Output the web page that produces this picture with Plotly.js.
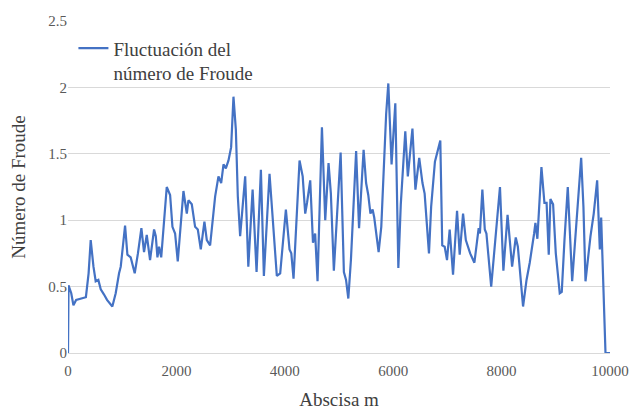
<!DOCTYPE html>
<html>
<head>
<meta charset="utf-8">
<script src="https://cdn.plot.ly/plotly-3.0.1.min.js"></script>
<style>html,body{margin:0;padding:0;background:#fff}#chart{width:630px;height:410px}</style>
</head>
<body>
<div id="chart"></div>
<script>
var abscisa = [0,10,60,100,150,250,330,380,419,470,511,560,604,665,720,818,880,942,973,1053,1096,1157,1200,1231,1290,1354,1403,1453,1514,1588,1620,1650,1680,1720,1822,1884,1927,1976,2025,2130,2192,2222,2284,2345,2395,2450,2517,2561,2622,2715,2776,2826,2869,2912,2961,3010,3053,3097,3133,3176,3269,3327,3406,3479,3559,3614,3718,3853,3915,4020,4087,4120,4161,4272,4330,4377,4410,4469,4520,4560,4604,4685,4746,4807,4850,4905,5030,5090,5130,5172,5220,5316,5370,5454,5500,5540,5580,5620,5650,5731,5780,5870,5910,5935,5970,6039,6095,6140,6223,6270,6355,6410,6480,6540,6580,6660,6700,6770,6840,6869,6905,6950,6993,7042,7104,7178,7227,7289,7340,7375,7420,7498,7577,7600,7645,7690,7720,7808,7890,7970,8033,8110,8194,8261,8300,8396,8460,8519,8600,8624,8660,8735,8790,8830,8870,8901,8950,9000,9073,9110,9160,9221,9302,9380,9468,9510,9548,9640,9700,9763,9800,9812,9837,9860,9917,10000];
var froude = [0,0.51,0.45,0.36,0.40,0.41,0.42,0.60,0.85,0.65,0.54,0.55,0.48,0.44,0.40,0.35,0.45,0.60,0.65,0.96,0.74,0.72,0.65,0.60,0.75,0.94,0.76,0.89,0.70,0.93,0.88,0.72,0.80,0.72,1.25,1.19,0.95,0.90,0.69,1.22,1.05,1.15,1.12,0.95,0.93,0.78,0.99,0.85,0.81,1.18,1.33,1.28,1.42,1.39,1.45,1.55,1.93,1.68,1.18,0.88,1.33,0.65,1.23,0.61,1.38,0.58,1.35,0.58,0.60,1.08,0.78,0.75,0.56,1.45,1.33,1.05,1.13,1.30,0.83,0.90,0.54,1.70,1.00,1.43,1.20,0.62,1.51,0.61,0.55,0.41,0.70,1.52,0.94,1.53,1.28,1.19,1.05,1.08,1.02,0.76,0.95,1.80,2.03,1.70,1.42,1.88,0.64,1.12,1.67,1.33,1.69,1.23,1.47,1.28,1.20,0.75,1.10,1.44,1.55,1.60,0.81,0.80,0.70,0.93,0.59,1.07,0.74,1.05,0.85,0.81,0.75,0.68,0.94,0.90,1.23,0.93,0.90,0.50,0.88,1.25,0.62,1.04,0.65,0.87,0.80,0.35,0.55,0.68,0.90,0.98,0.86,1.40,1.13,1.13,0.74,1.16,1.12,0.75,0.45,0.46,0.85,1.25,0.54,0.95,1.47,1.10,0.54,0.88,1.05,1.30,0.90,0.78,1.02,0.75,0,0];
var xTicks = [0,2000,4000,6000,8000,10000];
var yTicks = [0,0.5,1,1.5,2,2.5];
var yTickLabels = ['0','0.5','1','1.5','2','2.5'];
var seriesName = 'Fluctuación del<br>número de Froude';

var fontFam = 'Liberation Serif, Times New Roman, serif';
Plotly.newPlot('chart', [{
  x: abscisa, y: froude, type: 'scatter', mode: 'lines', name: seriesName,
  line: {color: '#4472C4', width: 2.2}
}], {
  width: 630, height: 410,
  margin: {l: 68, r: 20, t: 21, b: 57},
  paper_bgcolor: '#fff', plot_bgcolor: '#fff',
  font: {family: fontFam, color: '#595959', size: 15},
  showlegend: true,
  legend: {x: 0.01, y: 0.975, xanchor: 'left', yanchor: 'top', bgcolor: 'rgba(0,0,0,0)',
    font: {family: fontFam, size: 19, color: '#404040'}, valign: 'top'},
  xaxis: {range: [0, 10000], tickvals: xTicks, ticktext: xTicks.map(String), showgrid: false, zeroline: false,
    showline: true, linecolor: '#d9d9d9', linewidth: 1, ticks: '', ticklabelstandoff: 4,
    tickfont: {family: fontFam, size: 15, color: '#595959'},
    title: {text: 'Abscisa m', font: {family: fontFam, size: 19, color: '#404040'}, standoff: 14}},
  yaxis: {range: [0, 2.5], tickvals: yTicks, ticktext: yTickLabels, showgrid: true, gridcolor: '#d9d9d9', zeroline: false,
    showline: false, ticks: '', ticklen: 0,
    tickfont: {family: fontFam, size: 15, color: '#595959'},
    title: {text: 'Número de Froude', font: {family: fontFam, size: 19, color: '#404040'}, standoff: 17}}
}, {displayModeBar: false});
</script>
</body>
</html>
